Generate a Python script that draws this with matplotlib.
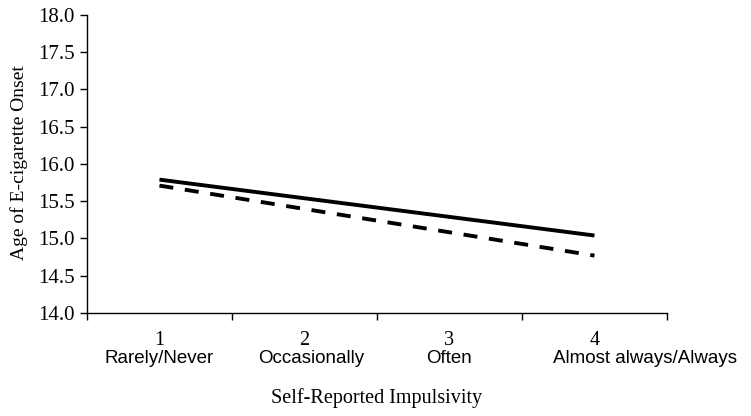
import numpy as np
import matplotlib.pyplot as plt

# category labels along the x axis
cat_nums = ['1', '2', '3', '4']
cat_names = ['Rarely/Never', 'Occasionally', 'Often', 'Almost always/Always']
# the two fitted lines run from category 1 to category 4
line_x = [1, 4]
solid_y = [15.79, 15.04]
dashed_y = [15.71, 14.77]
y_ticks = [14.0, 14.5, 15.0, 15.5, 16.0, 16.5, 17.0, 17.5, 18.0]

serif = 'Liberation Serif'
sans = 'Liberation Sans'

fig = plt.figure(figsize=(7.51, 4.16), dpi=100)
ax = fig.add_axes([0.1158, 0.2476, 0.7723, 0.7164])

ax.plot(line_x, solid_y, color='black', lw=2.8, solid_capstyle='butt')
ax.plot(line_x, dashed_y, color='black', lw=2.8, dashes=(3.6, 3.0))

ax.set_xlim(0.5, 4.5)
ax.set_ylim(14.0, 18.0)
ax.set_yticks(y_ticks)
ax.set_yticklabels(['%.1f' % v for v in y_ticks], family=serif, fontsize=15)

# ticks sit between the categories
ax.set_xticks(np.arange(0.5, 4.6, 1.0))
ax.set_xticklabels([])
ax.tick_params(axis='both', direction='out', length=5, width=1, color='black')
ax.tick_params(axis='y', pad=4)

for s in ['top', 'right']:
    ax.spines[s].set_visible(False)
for s in ['left', 'bottom']:
    ax.spines[s].set_linewidth(1.0)

# two-line category labels: number in serif, name in sans
name_shift = [0, 7, 0, 51]  # px offset of the name line as in the original
for i in range(len(cat_nums)):
    ax.annotate(cat_nums[i], xy=(i + 1, 14.0), xycoords='data',
                xytext=(0, -28), textcoords='offset pixels',
                ha='center', va='center', family=serif, fontsize=14.5)
    ax.annotate(cat_names[i], xy=(i + 1, 14.0), xycoords='data',
                xytext=(name_shift[i], -46), textcoords='offset pixels',
                ha='center', va='center', family=sans, fontsize=13.5)

fig.text(377 / 751, 1 - 398 / 416, 'Self-Reported Impulsivity',
         ha='center', va='center', family=serif, fontsize=14.5)
fig.text(19 / 751, 1 - 163 / 416, 'Age of E-cigarette Onset',
         ha='center', va='center', rotation=90, family=serif, fontsize=14)

fig.savefig('out.png', dpi=100)
